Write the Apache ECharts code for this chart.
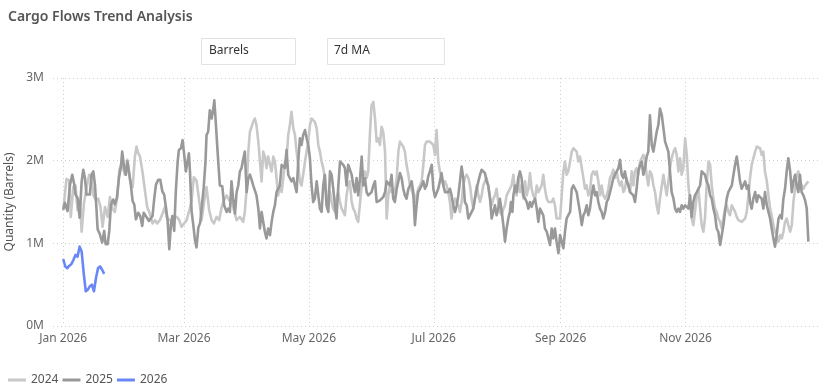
<!DOCTYPE html>
<html><head><meta charset="utf-8">
<script src="https://cdn.jsdelivr.net/npm/echarts@6/dist/echarts.min.js"></script>
<style>html,body{margin:0;padding:0;background:#fff}#c{width:837px;height:392px}</style>
</head><body><div id="c"></div>
<script>
const chartTitle = 'Cargo Flows Trend Analysis';
const slicerTexts = ['Barrels', '7d MA'];
const yAxisName = 'Quantity (Barrels)';
const seriesNames = ['2024', '2025', '2026'];
const xTickDays = [0, 59, 120, 181, 243, 304];
const xTickLabels = ['Jan 2026', 'Mar 2026', 'May 2026', 'Jul 2026', 'Sep 2026', 'Nov 2026'];

// [day of year offset, value in millions of barrels]
const s2024 = [[0,1.40],[1.6,1.78],[2.9,1.76],[3.7,1.32],[4.9,1.68],[6,1.70],[7,1.40],[8.1,1.52],[9,1.14],[10.1,1.48],[11.4,1.68],[12.7,1.83],[13.8,1.81],[14.7,1.58],[16,1.52],[17.1,1.54],[18.2,1.44],[19.2,1.20],[20.4,1.44],[21.7,1.32],[22.8,1.56],[24.1,1.42],[25.2,1.38],[26.4,1.56],[27.4,1.89],[28.5,1.97],[30.1,1.83],[31.3,2.01],[32.6,1.77],[33.9,1.68],[35,2.05],[35.8,2.17],[36.6,2.09],[37.5,2.05],[38.8,1.85],[39.9,1.64],[41,1.44],[42.3,1.36],[43.6,1.24],[44.8,1.28],[45.9,1.24],[47.2,1.28],[48.5,1.36],[49.7,1.44],[50.5,1.32],[51.8,1.28],[52.9,1.28],[54.1,1.32],[55.4,1.32],[56.7,1.28],[57.8,1.20],[59,1.24],[60.3,1.28],[61.6,1.40],[62.7,1.52],[63.8,1.80],[65.1,1.76],[66.4,1.52],[67.6,1.28],[68.7,1.48],[70,1.68],[71.3,1.40],[72.5,1.28],[73.6,1.24],[74.9,1.32],[76.2,1.28],[77.4,1.44],[78.5,1.52],[79.8,1.58],[81.1,1.52],[82.2,1.52],[83.4,1.40],[84.7,1.28],
[86.3,1.32],[87.1,1.34],[87.9,1.26],[88.7,1.38],[89.6,1.66],[90.4,2.11],[91.2,2.35],[92,2.33],[92.8,2.47],[93.6,2.51],[94.4,2.43],[95.3,2.23],[96.1,1.99],[96.9,1.75],[97.7,2.11],[98.5,2.05],[99.3,1.91],[100.1,2.05],[101,1.95],[101.8,1.87],[102.6,2.05],[103.4,1.99],[104.2,1.79],[105,1.58],[105.8,1.70],[106.7,1.62],[107.5,1.79],[108.3,1.99],[109.1,2.03],[109.9,2.31],[110.7,2.43],[111.5,2.59],[112.4,2.39],[113.2,2.31],[114,2.11],[114.8,1.95],[115.6,1.75],[116.4,1.70],[117.2,1.83],[118.1,1.99],[118.9,2.11],[119.7,2.23],[120.5,2.43],[121.3,2.51],[122.1,2.51],[122.9,2.47],[123.8,2.39],[124.6,2.19],[125.4,2.11],[126.2,1.99],[127,1.91],[127.8,1.79],[128.6,1.58],[129.5,1.46],[130.3,1.62],[131.1,1.50],[131.9,1.42],[132.7,1.38],[133.5,1.54],[134.3,1.62],[135.2,1.50],[136,1.42],[136.8,1.38],[137.6,1.34],[138.4,1.58],[139.2,1.70],[140,1.75],[140.9,1.50],[141.7,1.42],[142.5,1.38],[143.3,1.30],[144.1,1.26],
[145.8,1.70],[146.6,1.83],[147.4,1.87],[148.2,1.79],[149,1.87],[149.8,2.31],[150.6,2.67],[151.5,2.71],[152.3,2.51],[153.1,2.23],[153.9,2.27],[154.7,2.19],[155.5,2.41],[156.3,2.35],[157.2,2.11],[158,1.30],[158.8,1.58],[159.6,1.70],[160.4,1.62],[161.2,1.66],[162,1.62],[162.9,1.79],[163.7,2.11],[164.5,2.23],[165.3,2.21],[166.1,2.17],[166.9,2.11],[167.7,1.95],[168.6,1.83],[169.4,1.70],[170.2,1.70],[171,1.58],[171.8,1.50],[172.6,1.58],[173.4,1.66],[174.3,1.70],[175.1,1.75],[175.9,1.95],[176.7,2.19],[177.5,2.23],[178.3,2.23],[179.1,2.23],[180,2.25],[180.8,2.19],[181.6,2.07],[182.4,2.37],[183.2,1.99],[184,1.87],[184.8,1.79],[185.7,1.70],[186.5,1.75],[187.3,1.70],[188.1,1.62],[188.9,1.50],[189.7,1.30],[190.5,1.46],[191.4,1.54],[192.2,1.50],[193,1.46],[193.8,1.38],[194.6,1.50],[195.4,1.70],[196.2,1.79],[197.1,1.83],[197.9,1.79],[198.7,1.70],[199.5,1.54],[200.3,1.42],[201.1,1.54],[202,1.70],[202.8,1.58],[203.6,1.50],[204.4,1.58],[205.2,1.70],[206,1.75],[206.8,1.79],[207.6,1.70],[208.5,1.54],[209.3,1.46],[210.1,1.54],[210.9,1.58],[211.7,1.66],[212.5,1.50],[213.3,1.38],[214.2,1.34],[215,1.42],[215.8,1.46],[216.6,1.58],[217.4,1.62],
[218.2,1.62],[219,1.70],[219.9,1.83],[220.7,1.62],[221.5,1.58],[222.3,1.79],[223.1,1.62],[223.9,1.70],[224.8,1.54],[225.6,1.75],[226.4,1.58],[227.2,1.66],[228,1.85],[228.8,1.66],[229.6,1.58],[230.5,1.54],[231.3,1.70],[232.1,1.62],[232.9,1.62],[233.7,1.70],[234.5,1.83],[235.3,1.66],[236.2,1.54],[237,1.50],[237.8,1.52],[238.6,1.50],[239.4,1.54],[240.2,1.46],[241,1.30],[241.9,1.28],[242.7,1.30],[243.5,1.58],[244.3,1.87],[245.1,1.99],[245.9,1.83],[246.7,1.87],[247.6,1.99],[248.4,2.11],[249.2,2.15],[250,2.15],[250.8,2.11],[251.6,1.99],[252.4,2.05],[253.3,1.91],[254.1,1.79],[254.9,1.66],[255.7,1.70],[256.5,1.58],[257.3,1.62],[258.1,1.83],[259,1.87],[259.8,1.83],[260.6,1.87],[261.4,1.75],[262.2,1.58],[263,1.70],[263.8,1.58],[264.7,1.54],[265.5,1.58],[266.3,1.66],[267.1,1.79],[267.9,1.83],[268.7,1.89],[269.5,1.79],[270.4,1.87],[271.2,1.75],[272,1.70],[272.8,1.75],[273.6,1.62],[274.4,1.66],[275.2,1.79],[276.1,1.70],[276.9,1.62],[277.7,1.87],[278.5,1.70],[279.3,1.87],[280.1,1.91],[280.9,1.83],[281.8,1.99],[282.6,2.03],[283.4,2.07],[284.2,1.99],[285,1.83],[285.8,1.70],[286.6,1.87],[287.5,1.83],[288.3,1.70],[289.1,1.62],[289.9,1.46],[290.7,1.36],
[291.5,1.54],[292.4,1.70],[293.2,1.83],[294,1.70],[294.8,1.58],[295.6,1.75],[296.4,1.91],[297.2,2.03],[298.1,2.11],[298.9,2.15],[299.7,2.07],[300.5,1.87],[301.3,2.03],[302.1,1.83],[302.9,1.91],[303.8,2.27],[304.6,2.07],[305.4,1.70],[306.2,1.50],[307,1.30],[307.8,1.22],[308.6,1.38],[309.5,1.58],[310.3,1.66],[311.1,1.42],[311.9,1.22],[312.7,1.14],[313.5,1.30],[314.3,1.70],[315.2,1.99],[316,1.95],[316.8,1.70],[317.6,1.54],[318.4,1.42],[319.2,1.38],[320,1.30],[320.9,1.26],[321.7,1.18],[322.5,1.30],[323.3,1.42],[324.1,1.46],[324.9,1.38],[325.7,1.34],[326.6,1.46],[327.4,1.46],[328.2,1.38],[329,1.32],[329.8,1.28],[330.6,1.26],[331.4,1.26],[332.3,1.26],[333.1,1.30],[333.9,1.38],[334.7,1.58],[335.5,1.79],[336.3,1.95],[337.1,1.97],[338,2.11],[338.8,2.17],[339.6,2.19],[340.4,2.15],[341.2,2.07],[342,2.11],[342.8,1.87],[343.7,1.75],[344.5,1.58],[345.3,1.42],[346.1,1.34],[346.9,1.22],[347.7,1.14],[348.5,1.10],[349.4,1.02],[350.2,1.10],[351,1.06],[351.8,1.14],[352.6,1.26],[353.4,1.30],[354.2,1.22],[355.1,1.14],[355.9,1.22],[356.7,1.50],[357.5,1.66],[358.3,1.83],[359.1,1.87],[359.9,1.75],[360.7,1.70],[361.6,1.66],[362.4,1.70],[363.2,1.70],[364,1.75]];

const s2025 = [[0,1.41],[0.8,1.49],[2.1,1.39],[3.3,1.71],[4.4,1.83],[5.4,1.71],[6,1.59],[7,1.55],[8,1.31],[9,1.75],[9.8,1.89],[10.6,1.79],[11.4,1.59],[12.2,1.57],[13,1.59],[13.8,1.83],[14.7,1.87],[15.5,1.71],[16.3,1.39],[16.8,1.17],[17.9,1.11],[19,1.01],[20,1.15],[20.7,0.99],[21.7,0.99],[22.5,1.15],[23.3,1.47],[24.4,1.53],[25.2,1.47],[26.2,1.55],[27.2,1.79],[28.2,1.93],[28.8,2.11],[29.8,1.91],[30.6,1.83],[31.4,1.99],[32.1,1.87],[33,1.71],[33.9,1.51],[34.7,1.47],[35.5,1.29],[36.6,1.37],[37.6,1.33],[38.6,1.21],[39.3,1.37],[40.2,1.35],[40.9,1.31],[41.9,1.27],[42.8,1.27],[43.6,1.33],[44.5,1.55],[45.3,1.71],[46.4,1.77],[47.4,1.77],[48.4,1.63],[49.3,1.59],[50.2,1.43],[51,1.27],[51.8,0.93],[52.6,1.23],[53.3,1.33],[54.2,1.15],[55,1.63],[55.9,1.99],[56.5,2.13],[57.5,2.15],[58.3,2.25],[59.1,2.07],[59.9,1.87],[60.7,1.87],[61.4,2.09],[61.9,1.87],[62.7,1.39],[63.5,1.23],[64.3,1.05],[65.1,0.95],[66,1.19],[66.9,1.25],[67.8,1.47],[68.6,1.67],[69.5,1.99],[70,2.31],[70.8,2.35],
[71.6,2.61],[72.5,2.51],[73.3,2.63],[73.8,2.73],[74.4,2.51],[75.4,2.11],[76.5,1.70],[77.7,1.69],[78.6,1.46],[79.8,1.38],[80.6,1.42],[81.4,1.38],[82.2,1.75],[83,1.54],[83.9,1.36],[84.7,1.62],[85.5,1.70],[86.3,1.87],[87.1,1.91],[87.9,1.93],[88.7,2.11],[89.6,1.62],[90.4,1.79],[91.2,1.83],[92,1.77],[92.8,1.70],[93.6,1.70],[94.4,1.58],[95.3,1.42],[96.1,1.18],[96.9,1.38],[97.7,1.38],[98.5,1.14],[99.3,1.06],[100.1,1.18],[101,1.10],[101.8,1.26],[102.6,1.38],[103.4,1.46],[104.2,1.62],[105,1.62],[105.8,1.70],[106.7,1.95],[107.5,1.97],[108.3,1.91],[109.1,2.13],[109.9,1.83],[110.7,1.83],[111.5,1.75],[112.4,1.79],[113.2,1.70],[114,1.62],[114.8,1.99],[115.6,2.27],[116.4,2.19],[117.2,2.31],[118.1,2.37],[118.9,2.27],[119.7,2.19],[120.5,2.03],[121.3,1.70],[122.1,1.50],[122.9,1.54],[123.8,1.75],[124.6,1.58],[125.4,1.42],[126.2,1.38],[127,1.70],[127.8,1.83],[128.6,1.46],[129.5,1.38],[130.3,1.87],[131.1,1.83],[131.9,1.66],[132.7,1.46],[133.5,1.30],[134.3,1.66],[135.2,1.99],[136,1.97],[136.8,1.95],[137.6,1.91],[138.4,1.70],[139.2,1.95],[140,1.95],[140.9,1.83],[141.7,1.70],[142.5,1.62],[143.3,1.79],[144.1,1.58],
[145,1.79],[145.8,2.05],[146.6,1.70],[147.4,1.79],[148.2,1.62],[149,1.58],[149.8,1.60],[150.6,1.62],[151.5,1.70],[152.3,1.75],[153.1,1.50],[153.9,1.48],[154.7,1.52],[155.5,1.54],[156.3,1.56],[157.2,1.62],[158,1.75],[158.8,1.77],[159.6,1.70],[160.4,1.83],[161.2,1.54],[162,1.50],[162.9,1.66],[163.7,1.75],[164.5,1.85],[165.3,1.79],[166.1,1.66],[166.9,1.58],[167.7,1.54],[168.6,1.66],[169.4,1.70],[170.2,1.75],[171,1.62],[171.8,1.22],[172.6,1.46],[173.4,1.62],[174.3,1.66],[175.1,1.70],[175.9,1.75],[176.7,1.66],[177.5,1.70],[178.3,1.81],[179.1,1.87],[180,1.95],[180.8,1.66],[181.6,1.56],[182.4,1.58],[183.2,1.66],[184,1.75],[184.8,1.85],[185.7,1.70],[186.5,1.62],[187.3,1.62],[188.1,1.62],[188.9,1.66],[189.7,1.58],[190.5,1.46],[191.4,1.38],[192.2,1.46],[193,1.58],[193.8,1.75],[194.6,1.93],[195.4,1.79],[196.2,1.50],[197.1,1.46],[197.9,1.30],[198.7,1.28],[199.5,1.38],[200.3,1.42],[201.1,1.54],[202,1.66],[202.8,1.75],[203.6,1.83],[204.4,1.89],[205.2,1.89],[206,1.85],[206.8,1.75],[207.6,1.70],[208.5,1.54],[209.3,1.30],[210.1,1.38],[210.9,1.46],[211.7,1.34],[212.5,1.42],[213.3,1.54],[214.2,1.38],[215,1.22],[215.8,1.02],[216.6,1.18],[217.4,1.30],
[218.2,1.38],[218.7,1.50],[219.4,1.38],[219.9,1.58],[220.7,1.70],[221.5,1.62],[222.3,1.79],[223.1,1.87],[223.9,1.79],[224.8,1.58],[225.6,1.54],[226.4,1.50],[227.2,1.42],[228,1.50],[228.8,1.44],[229.6,1.50],[230.5,1.54],[231.3,1.42],[232.1,1.26],[232.9,1.42],[233.7,1.42],[234.5,1.34],[235.3,1.18],[236.2,1.14],[237,1.06],[237.8,0.98],[238.6,1.18],[239.4,1.06],[240.2,1.18],[241,1.02],[241.9,0.88],[242.7,1.10],[243.5,1.02],[244.3,0.94],[245.1,1.14],[245.9,1.30],[246.7,1.34],[247.6,1.38],[248.4,1.66],[249.2,1.70],[250,1.66],[250.8,1.62],[251.6,1.50],[252.4,1.38],[253.3,1.22],[254.1,1.34],[254.9,1.38],[255.7,1.46],[256.5,1.34],[257.3,1.42],[258.1,1.58],[259,1.70],[259.8,1.58],[260.6,1.62],[261.4,1.50],[262.2,1.42],[263,1.38],[263.8,1.30],[264.7,1.38],[265.5,1.50],[266.3,1.54],[267.1,1.62],[267.9,1.70],[268.7,1.79],[269.5,1.83],[270.4,1.87],[271.2,1.91],[272,2.01],[272.8,1.83],[273.6,1.79],[274.4,1.87],[275.2,1.75],[276.1,1.70],[276.9,1.62],[277.7,1.62],[278.5,1.58],[279.3,1.50],[280.1,1.66],[280.9,1.87],[281.8,1.95],[282.6,1.99],[283.4,1.83],[284.2,1.91],[285,2.05],[285.8,2.11],[286.6,2.55],[287.5,2.19],[288.3,2.11],[289.1,2.23],[289.9,2.35],[290.7,2.43],
[291.5,2.63],[292.4,2.55],[293.2,2.39],[294,2.23],[294.8,2.23],[295.6,2.11],[296.4,1.87],[297.2,1.62],[298.1,1.54],[298.9,1.42],[299.7,1.38],[300.5,1.42],[301.3,1.38],[302.1,1.46],[302.9,1.42],[303.8,1.46],[304.6,1.46],[305.4,1.42],[306.2,1.58],[307,1.32],[307.8,1.50],[308.6,1.58],[309.5,1.62],[310.3,1.66],[311.1,1.70],[311.9,1.87],[312.7,1.89],[313.5,1.83],[314.3,1.75],[315.2,1.70],[316,1.58],[316.8,1.54],[317.6,1.42],[318.4,1.34],[319.2,1.18],[320,1.14],[320.9,0.98],[321.7,1.10],[322.5,1.22],[323.3,1.38],[324.1,1.54],[324.9,1.62],[325.7,1.62],[326.6,1.70],[327.4,1.83],[328.2,1.95],[329,2.05],[329.8,1.91],[330.6,1.75],[331.4,1.66],[332.3,1.66],[333.1,1.75],[333.9,1.66],[334.7,1.70],[335.5,1.50],[336.3,1.42],[337.1,1.54],[338,1.62],[338.8,1.50],[339.6,1.58],[340.4,1.58],[341.2,1.54],[342,1.42],[342.8,1.62],[343.7,1.46],[344.5,1.38],[345.3,1.30],[346.1,1.18],[346.9,1.06],[347.7,0.96],[348.5,1.10],[349.4,1.30],[350.2,1.34],[351,1.30],[351.8,1.54],[352.6,1.66],[353.4,1.87],[354.2,2.03],[355.1,1.87],[355.9,1.62],[356.7,1.75],[357.5,1.83],[358.3,1.70],[359.1,1.62],[359.9,1.83],[360.7,1.62],[361.6,1.58],[362.4,1.52],[363.2,1.42],[364,1.02]];

const s2026 = [[0,0.81],[1,0.72],[2,0.70],[3,0.73],[4,0.75],[5,0.80],[6,0.86],[7,0.84],[8,0.96],[9,0.90],[10,0.64],[11,0.42],[12,0.44],[13,0.48],[14,0.50],[15,0.42],[16,0.58],[17,0.70],[18,0.72],[19,0.68],[20,0.63]];

const seriesData = [s2024, s2025, s2026];
const seriesColors = ['#c8c8c8', '#999999', '#6b87f7'];

const chart = echarts.init(document.getElementById('c'), null, {renderer: 'canvas'});
const FONT = '"Noto Sans", sans-serif';
const gridLine = {show: true, lineStyle: {color: '#cfcfcf', type: [1, 3], width: 1}};

chart.setOption({
  animation: false,
  backgroundColor: '#ffffff',
  title: {
    text: chartTitle, left: 3, top: 5,
    textStyle: {fontFamily: FONT, fontSize: 14, fontWeight: 600, color: '#555555'}
  },
  graphic: [
    {type: 'rect', shape: {x: 201.5, y: 38.5, width: 94, height: 26}, style: {fill: '#fff', stroke: '#e3e3e3', lineWidth: 1}},
    {type: 'text', left: 209, top: 45, style: {text: slicerTexts[0], fontFamily: FONT, fontSize: 12, fill: '#333'}},
    {type: 'rect', shape: {x: 327.5, y: 38.5, width: 117, height: 26}, style: {fill: '#fff', stroke: '#e3e3e3', lineWidth: 1}},
    {type: 'text', left: 334, top: 45, style: {text: slicerTexts[1], fontFamily: FONT, fontSize: 12, fill: '#333'}}
  ],
  legend: {
    left: 3, bottom: 1, itemWidth: 18, itemHeight: 3, itemGap: 4, icon: 'rect',
    textStyle: {fontFamily: FONT, fontSize: 12, color: '#555'},
    data: seriesNames
  },
  grid: {left: 53, right: 19, top: 78, bottom: 66, outerBoundsMode: 'none', containLabel: false},
  xAxis: {
    type: 'value', min: -5, max: 368.7,
    axisLine: {show: false},
    axisTick: {show: false, customValues: xTickDays},
    axisLabel: {
      customValues: xTickDays, margin: 7,
      fontFamily: FONT, fontSize: 12, color: '#666',
      formatter: v => xTickLabels[xTickDays.indexOf(v)] || ''
    },
    splitLine: gridLine
  },
  yAxis: {
    type: 'value', min: 0, max: 3, interval: 1,
    name: yAxisName, nameLocation: 'middle', nameGap: 30, nameRotate: 90,
    nameTextStyle: {fontFamily: FONT, fontSize: 12, color: '#555'},
    axisLine: {show: false}, axisTick: {show: false},
    axisLabel: {margin: 9, fontFamily: FONT, fontSize: 12, color: '#666', formatter: v => v + 'M'},
    splitLine: gridLine
  },
  series: seriesNames.map((name, i) => ({
    name, type: 'line', data: seriesData[i], symbol: 'none', smooth: false,
    z: 2 + i,
    lineStyle: {color: seriesColors[i], width: 2.6, join: 'round'},
    itemStyle: {color: seriesColors[i]}
  }))
});
</script>
</body></html>
